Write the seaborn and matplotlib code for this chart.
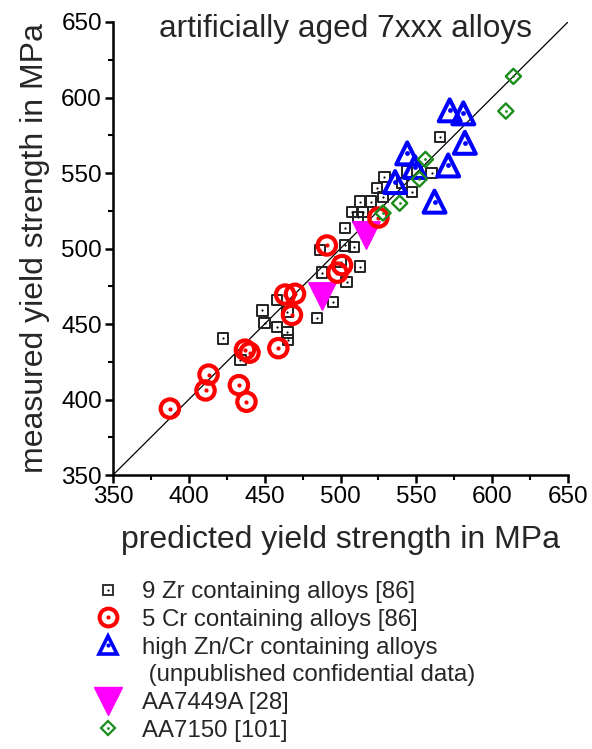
import matplotlib
matplotlib.use("Agg")
import matplotlib.pyplot as plt
from matplotlib.lines import Line2D
from matplotlib.ticker import MultipleLocator
import seaborn as sns
import pandas as pd

# data (predicted, measured) in MPa
zr_pred = [422.5, 434, 448.5, 450, 458, 465, 465.5, 458, 465, 484.5, 495, 504, 488, 486.5, 500, 513,
           509, 503, 503, 511.5, 507.5, 515, 513, 520, 524, 528, 529, 540.5, 547, 544, 560, 565.5]
zr_meas = [440.5, 426, 459, 450.5, 448, 444.5, 439.5, 466, 458, 454, 464.5, 478, 484, 499, 491, 488,
           501, 502, 513.5, 521, 524, 524, 531, 531, 540, 534, 547.5, 543.5, 537.5, 551, 550, 574]

cr_pred = [387.5, 411, 413, 433, 438, 437, 440, 459, 463.5, 470, 468, 491, 498, 501, 525]
cr_meas = [394, 406, 416.5, 409.5, 398.5, 433, 431, 434, 469.5, 470, 456, 502, 484, 489, 520.5]

zn_pred = [536, 544, 549, 562, 571, 572, 581, 582]
zn_meas = [544, 563, 554, 531, 555, 591.5, 589.5, 570]

aa7449_pred = [488, 517]
aa7449_meas = [468.5, 509]

aa7150_pred = [528, 539, 552, 556, 609, 614]
aa7150_meas = [523.5, 530, 546, 559, 591, 614]

labels = ["9 Zr containing alloys [86]",
          "5 Cr containing alloys [86]",
          "high Zn/Cr containing alloys",
          " (unpublished confidential data)",
          "AA7449A [28]",
          "AA7150 [101]"]

sns.set_theme(style="ticks")
plt.rcParams["font.family"] = ["Liberation Sans", "DejaVu Sans"]

fig = plt.figure(figsize=(5.92, 7.49), dpi=100)
ax = fig.add_axes([113 / 592, 1 - 475 / 749, 455 / 592, 453 / 749])

ax.plot([350, 650], [350, 650], color="black", lw=0.9, zorder=1)

# squares (Zr)
sns.scatterplot(x=zr_pred, y=zr_meas, marker="s", s=56, color="black", facecolor="none",
                edgecolor="#222222", linewidth=1.4, ax=ax, zorder=2)
sns.scatterplot(x=zr_pred, y=zr_meas, marker="o", s=2.5, color="black", linewidth=0, ax=ax, zorder=2)

# magenta down triangles
sns.scatterplot(x=aa7449_pred, y=aa7449_meas, marker="v", s=390, color="magenta",
                edgecolor="magenta", linewidth=1, ax=ax, zorder=3)

# red circles (Cr)
sns.scatterplot(x=cr_pred, y=cr_meas, marker="o", s=175, color="red", facecolor="none",
                edgecolor="red", linewidth=3.0, ax=ax, zorder=4)
sns.scatterplot(x=cr_pred, y=cr_meas, marker="o", s=9, color="red", linewidth=0, ax=ax, zorder=4)

# blue triangles
sns.scatterplot(x=zn_pred, y=zn_meas, marker="^", s=250, color="blue", facecolor="none",
                edgecolor="blue", linewidth=2.9, ax=ax, zorder=5)
sns.scatterplot(x=zn_pred, y=zn_meas, marker="o", s=12, color="blue", linewidth=0, ax=ax, zorder=5)

# green diamonds
sns.scatterplot(x=aa7150_pred, y=aa7150_meas, marker="D", s=60, color="green", facecolor="none",
                edgecolor="#1a8c1a", linewidth=1.7, ax=ax, zorder=6)
sns.scatterplot(x=aa7150_pred, y=aa7150_meas, marker="o", s=4, color="#1a8c1a", linewidth=0, ax=ax, zorder=6)

ax.set_xlim(350, 650)
ax.set_ylim(350, 650)
ax.xaxis.set_major_locator(MultipleLocator(50))
ax.yaxis.set_major_locator(MultipleLocator(50))
ax.xaxis.set_minor_locator(MultipleLocator(25))
ax.yaxis.set_minor_locator(MultipleLocator(25))
sns.despine(ax=ax)
for sp in ["left", "bottom"]:
    ax.spines[sp].set_linewidth(1.8)
    ax.spines[sp].set_color("black")
ax.tick_params(which="major", direction="out", length=6, width=1.8, labelsize=17.5, pad=2, colors="black")
ax.tick_params(which="minor", direction="out", length=3.5, width=1.5, colors="black")

ax.set_xlabel("predicted yield strength in MPa", fontsize=23, labelpad=12)
ax.set_ylabel("measured yield strength in MPa", fontsize=23, labelpad=8)
ax.text(0.51, 0.967, "artificially aged 7xxx alloys", transform=ax.transAxes,
        ha="center", va="baseline", fontsize=22.8)

# legend
h_zr = (Line2D([], [], ls="none", marker="s", ms=7.2, mfc="none", mec="#222222", mew=1.3),
        Line2D([], [], ls="none", marker="o", ms=1.6, mfc="black", mec="black", mew=0))
h_cr = (Line2D([], [], ls="none", marker="o", ms=12.8, mfc="none", mec="red", mew=2.9),
        Line2D([], [], ls="none", marker="o", ms=3, mfc="red", mec="red", mew=0))
h_zn = (Line2D([], [], ls="none", marker="^", ms=12.5, mfc="none", mec="blue", mew=2.6),
        Line2D([], [], ls="none", marker="o", ms=3, mfc="blue", mec="blue", mew=0))
h_none = Line2D([], [], ls="none", marker=None)
h_aa49 = Line2D([], [], ls="none", marker="v", ms=20, mfc="magenta", mec="magenta")
h_aa50 = (Line2D([], [], ls="none", marker="D", ms=7.5, mfc="none", mec="#1a8c1a", mew=1.6),
          Line2D([], [], ls="none", marker="o", ms=2, mfc="#1a8c1a", mec="#1a8c1a", mew=0))

fig.legend([h_zr, h_cr, h_zn, h_none, h_aa49, h_aa50], labels,
           loc="upper left", bbox_to_anchor=(96 / 592, 1 - 581 / 749),
           frameon=False, fontsize=17.3, labelspacing=0.24, handlelength=1.0,
           handletextpad=0.92, borderpad=0, borderaxespad=0)

fig.savefig("out.png", dpi=100)
